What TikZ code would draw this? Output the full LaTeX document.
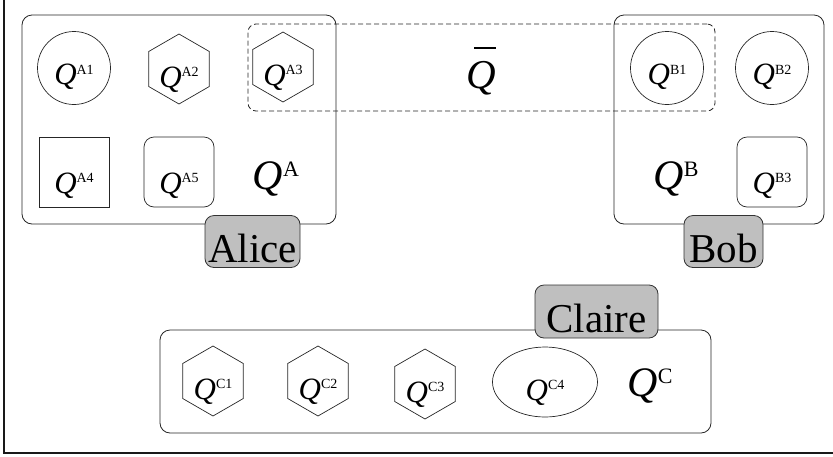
\documentclass[tikz,border=0pt]{standalone}
\usepackage{fontspec}
\setmainfont{Liberation Serif}
\usetikzlibrary{shapes.geometric}
\newcommand{\smq}[1]{{\fontsize{31}{31}\selectfont\textit{Q}}\raisebox{10.5pt}{\fontsize{14}{14}\selectfont #1}}
\newcommand{\bigq}[1]{{\fontsize{42}{42}\selectfont\textit{Q}}\raisebox{13pt}{\fontsize{22}{22}\selectfont #1}}
\newcommand{\qbarsym}{\makebox[0pt][l]{\hspace{8pt}\raisebox{39pt}{\rule{22pt}{1.6pt}}}{\fontsize{41}{41}\selectfont\textit{Q}}}
\begin{document}
\begin{tikzpicture}[x=1pt,y=-1pt,
  every node/.style={inner sep=0pt, outer sep=0pt},
  frameline/.style={draw=black!90, line width=1.3pt},
  grp/.style={draw=black!85, line width=0.8pt, rounded corners=10pt},
  shared/.style={draw=black!85, line width=0.8pt, dash pattern=on 5pt off 3pt, rounded corners=8pt},
  tag/.style={draw=black!80, line width=0.8pt, fill=black!25, rounded corners=9pt,
    minimum height=52pt, text height=42pt, text depth=0pt, font=\fontsize{41}{41}\selectfont},
  circq/.style={draw=black!85, line width=0.7pt, circle, minimum size=73pt, text height=33pt, text depth=0pt},
  hexq/.style={draw=black!85, line width=0.7pt, regular polygon, regular polygon sides=6,
    shape border rotate=90, minimum size=70pt, text height=36pt, text depth=0pt},
  sqq/.style={draw=black!85, line width=0.7pt, rectangle, minimum width=70pt, minimum height=70pt,
    text height=42pt, text depth=0pt},
  rsqq/.style={sqq, rounded corners=10pt},
  ellq/.style={draw=black!85, line width=0.7pt, ellipse, minimum width=105pt, minimum height=70pt,
    text height=36pt, text depth=0pt},
  bigl/.style={anchor=base}
]
\useasboundingbox (0,0) rectangle (833,456);
\draw[frameline] (4,0) -- (4,453) -- (833,453);

% group boxes
\node[grp, minimum width=314pt, minimum height=209pt] (alicebox) at (179,119.5) {};
\node[grp, minimum width=210pt, minimum height=209pt] (bobbox) at (719,119.5) {};
\node[grp, minimum width=551pt, minimum height=103pt] (clairebox) at (435.5,381.5) {};
\node[shared, minimum width=467pt, minimum height=87pt] (qbarbox) at (481.5,67.5) {};

% Alice
\node[circq] (qa1) at (74,68) {\smq{A1}};
\node[hexq] (qa2) at (179,69) {\smq{A2}};
\node[hexq] (qa3) at (283,67) {\smq{A3}};
\node[sqq] (qa4) at (74,172) {\smq{A4}};
\node[rsqq] (qa5) at (179,172) {\smq{A5}};
\node[bigl] (qa) at (276,189) {\bigq{A}};

% shared
\node[bigl] (qbar) at (481,88) {\qbarsym};

% Bob
\node[circq] (qb1) at (667,68) {\smq{B1}};
\node[circq] (qb2) at (772,68) {\smq{B2}};
\node[rsqq] (qb3) at (772,172) {\smq{B3}};
\node[bigl] (qb) at (676,189) {\bigq{B}};

% Claire
\node[hexq] (qc1) at (213,381) {\smq{C1}};
\node[hexq] (qc2) at (318,381) {\smq{C2}};
\node[hexq] (qc3) at (425,384) {\smq{C3}};
\node[ellq] (qc4) at (545,382) {\smq{C4}};
\node[bigl] (qc) at (650,396) {\bigq{C}};

% name tags
\node[tag, minimum width=95pt] (alice) at (252.5,241.5) {Alice};
\node[tag, minimum width=79pt] (bob) at (723.5,241.5) {Bob};
\node[tag, minimum width=123pt, minimum height=53pt] (claire) at (596.5,311.5) {Claire};
\end{tikzpicture}
\end{document}
